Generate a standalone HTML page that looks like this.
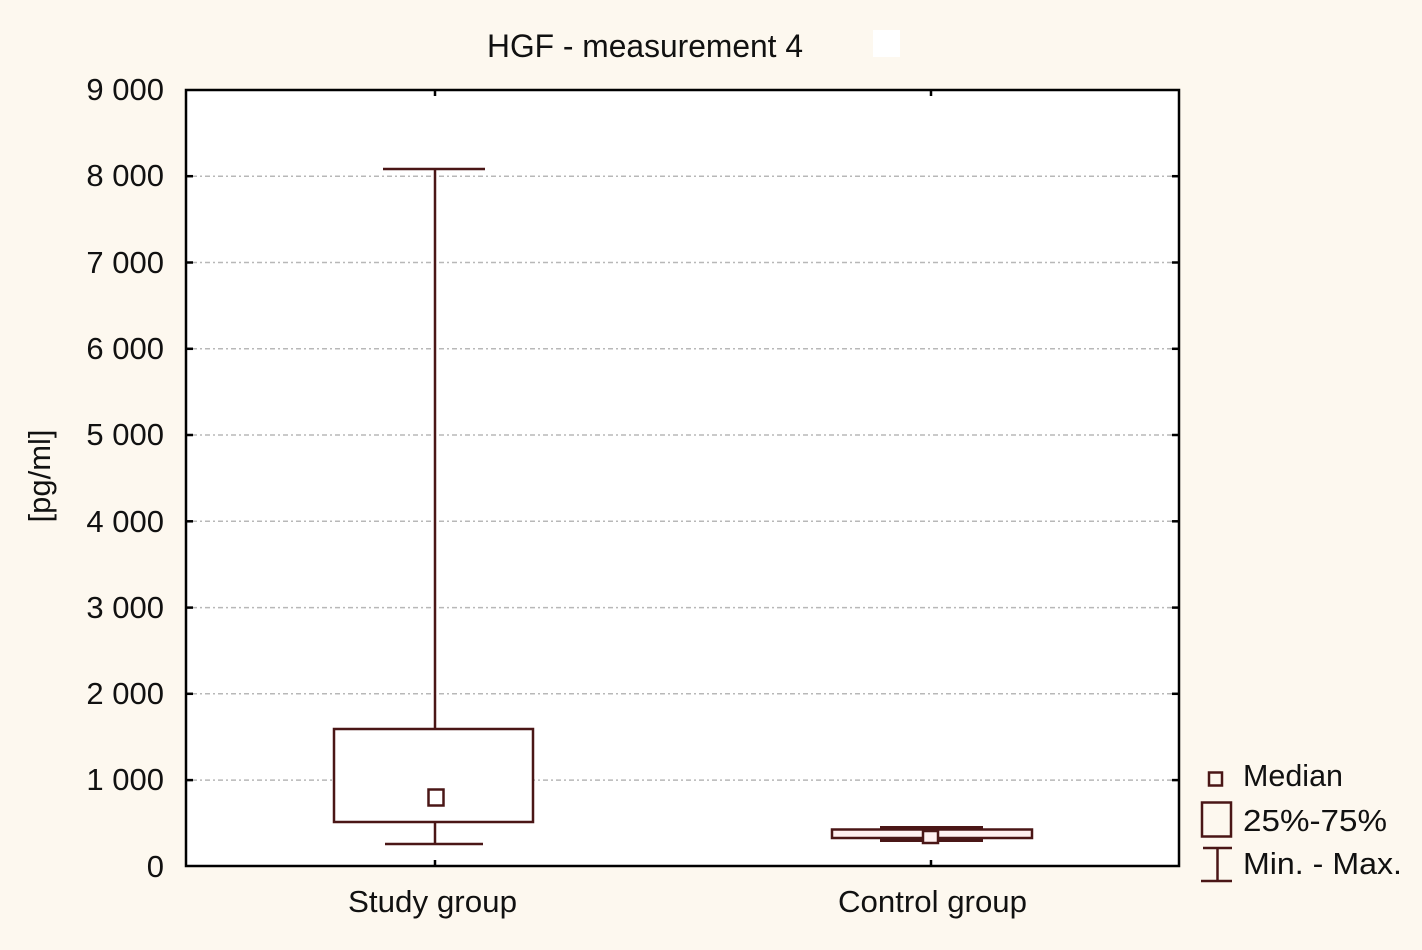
<!DOCTYPE html>
<html>
<head>
<meta charset="utf-8">
<style>
  html, body { margin:0; padding:0; background:#fdf8ef; }
  svg { display:block; }
  text { font-family: "Liberation Sans", "DejaVu Sans", sans-serif; fill:#111111; }
</style>
</head>
<body>
<svg width="1422" height="950" viewBox="0 0 1422 950" xmlns="http://www.w3.org/2000/svg">
  <rect x="0" y="0" width="1422" height="950" fill="#fdf8ef"/>

  <!-- Title -->
  <text x="487" y="57" font-size="32" textLength="316" lengthAdjust="spacingAndGlyphs">HGF - measurement 4</text>
  <rect x="873" y="30" width="27" height="27" fill="#ffffff"/>

  <!-- Plot area -->
  <rect x="186" y="90" width="993" height="776" fill="#ffffff"/>

  <!-- Grid lines -->
  <g stroke="#b8b8b8" stroke-width="1.5" stroke-dasharray="5,3,2,3" fill="none">
    <line x1="192" y1="176.2" x2="1173" y2="176.2"/>
    <line x1="192" y1="262.5" x2="1173" y2="262.5"/>
    <line x1="192" y1="348.8" x2="1173" y2="348.8"/>
    <line x1="192" y1="435" x2="1173" y2="435"/>
    <line x1="192" y1="521.3" x2="1173" y2="521.3"/>
    <line x1="192" y1="607.6" x2="1173" y2="607.6"/>
    <line x1="192" y1="693.8" x2="1173" y2="693.8"/>
    <line x1="192" y1="780.1" x2="1173" y2="780.1"/>
  </g>

  <!-- Study group -->
  <g stroke="#4a1616" stroke-width="2.5" fill="none">
    <line x1="435" y1="169" x2="435" y2="729"/>
    <line x1="383" y1="169" x2="485" y2="169"/>
    <line x1="435" y1="822" x2="435" y2="844"/>
    <line x1="385" y1="844" x2="483" y2="844"/>
    <rect x="334" y="729" width="199" height="93" fill="#ffffff"/>
    <rect x="428.5" y="789.5" width="15" height="16" fill="#ffffff"/>
  </g>

  <!-- Control group -->
  <rect x="880" y="826" width="103" height="16" fill="#4a1616"/>
  <g stroke="#4a1616" stroke-width="2.5">
    <rect x="832" y="829.5" width="200" height="8.5" fill="#fff0f0"/>
    <rect x="923" y="831" width="15" height="12" fill="#fff0f0"/>
  </g>

  <!-- Axes frame -->
  <rect x="186" y="90" width="993" height="776" fill="none" stroke="#000" stroke-width="2.5"/>

  <!-- Y ticks (inside, left & right) -->
  <g stroke="#000" stroke-width="2.5">
    <line x1="186" y1="176.2" x2="193" y2="176.2"/>
    <line x1="186" y1="262.5" x2="193" y2="262.5"/>
    <line x1="186" y1="348.8" x2="193" y2="348.8"/>
    <line x1="186" y1="435" x2="193" y2="435"/>
    <line x1="186" y1="521.3" x2="193" y2="521.3"/>
    <line x1="186" y1="607.6" x2="193" y2="607.6"/>
    <line x1="186" y1="693.8" x2="193" y2="693.8"/>
    <line x1="186" y1="780.1" x2="193" y2="780.1"/>
    <line x1="1172" y1="176.2" x2="1179" y2="176.2"/>
    <line x1="1172" y1="262.5" x2="1179" y2="262.5"/>
    <line x1="1172" y1="348.8" x2="1179" y2="348.8"/>
    <line x1="1172" y1="435" x2="1179" y2="435"/>
    <line x1="1172" y1="521.3" x2="1179" y2="521.3"/>
    <line x1="1172" y1="607.6" x2="1179" y2="607.6"/>
    <line x1="1172" y1="693.8" x2="1179" y2="693.8"/>
    <line x1="1172" y1="780.1" x2="1179" y2="780.1"/>
    <!-- X ticks top & bottom -->
    <line x1="435" y1="90" x2="435" y2="96"/>
    <line x1="931" y1="90" x2="931" y2="96"/>
    <line x1="435" y1="860" x2="435" y2="866"/>
    <line x1="931" y1="860" x2="931" y2="866"/>
  </g>

  <!-- Y tick labels -->
  <g font-size="31" text-anchor="end">
    <text x="164" y="100">9 000</text>
    <text x="164" y="186">8 000</text>
    <text x="164" y="273">7 000</text>
    <text x="164" y="359">6 000</text>
    <text x="164" y="445">5 000</text>
    <text x="164" y="532">4 000</text>
    <text x="164" y="618">3 000</text>
    <text x="164" y="704">2 000</text>
    <text x="164" y="790">1 000</text>
    <text x="164" y="877">0</text>
  </g>

  <!-- Y axis label -->
  <text font-size="31" text-anchor="middle" transform="translate(50,476) rotate(-90)">[pg/ml]</text>

  <!-- X labels -->
  <text x="348" y="912" font-size="31" textLength="169" lengthAdjust="spacingAndGlyphs">Study group</text>
  <text x="838" y="912" font-size="31" textLength="189" lengthAdjust="spacingAndGlyphs">Control group</text>

  <!-- Legend -->
  <g stroke="#4a1616" stroke-width="2.5" fill="none">
    <rect x="1209" y="772.5" width="13" height="13" fill="#fdf8ef"/>
    <rect x="1202" y="802.5" width="29" height="34"/>
    <line x1="1203" y1="848" x2="1232" y2="848"/>
    <line x1="1217.5" y1="848" x2="1217.5" y2="881"/>
    <line x1="1201" y1="881" x2="1232" y2="881"/>
  </g>
  <g font-size="31">
    <text x="1243" y="786" textLength="100" lengthAdjust="spacingAndGlyphs">Median</text>
    <text x="1243" y="831" textLength="144" lengthAdjust="spacingAndGlyphs">25%-75%</text>
    <text x="1243" y="874" textLength="159" lengthAdjust="spacingAndGlyphs">Min. - Max.</text>
  </g>
</svg>
</body>
</html>
